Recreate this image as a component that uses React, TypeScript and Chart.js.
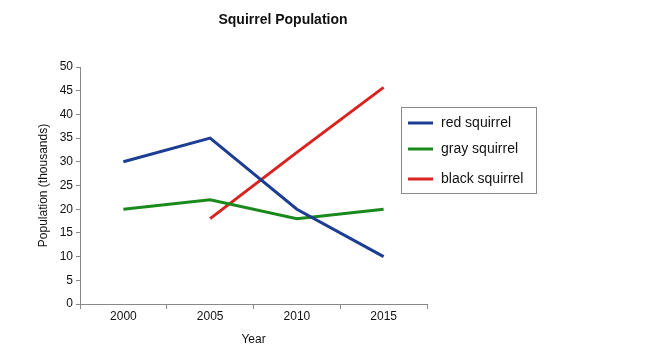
import React, { useEffect, useRef } from "react";
import { Chart, registerables } from "chart.js";

Chart.register(...registerables);

const years = ["2000", "2005", "2010", "2015"];
const redSquirrel = [30, 35, 20, 10];
const graySquirrel = [20, 22, 18, 20];
const blackSquirrel = [null, 18, 32, 45.7];
const seriesNames = ["red squirrel", "gray squirrel", "black squirrel"];
const seriesColors = ["#1b3d93", "#1a8a1c", "#d9231f"];
const chartTitle = "Squirrel Population";
const yTitle = "Population (thousands)";
const xTitle = "Year";

const FONT = "'Liberation Sans', Arial, sans-serif";

const overlayPlugin = {
  id: "overlay",
  afterDraw(chart: any) {
    const ctx = chart.ctx;
    ctx.save();
    // title
    ctx.fillStyle = "#111";
    ctx.font = `bold 14px ${FONT}`;
    ctx.textAlign = "center";
    ctx.textBaseline = "middle";
    ctx.fillText(chartTitle, 283, 20);
    // legend box
    ctx.strokeStyle = "#8a8a8a";
    ctx.lineWidth = 1;
    ctx.strokeRect(401.5, 107.5, 135, 86);
    const rows = [123, 149, 179];
    chart.data.datasets.forEach((ds: any, i: number) => {
      ctx.strokeStyle = ds.borderColor;
      ctx.lineWidth = 3;
      ctx.beginPath();
      ctx.moveTo(408, rows[i]);
      ctx.lineTo(433, rows[i]);
      ctx.stroke();
      ctx.fillStyle = "#111";
      ctx.font = `14px ${FONT}`;
      ctx.textAlign = "left";
      ctx.textBaseline = "middle";
      ctx.fillText(ds.label, 441, rows[i]);
    });
    ctx.restore();
  },
};

export default function App() {
  const ref = useRef<HTMLCanvasElement>(null);
  useEffect(() => {
    const data = [redSquirrel, graySquirrel, blackSquirrel];
    const chart = new Chart(ref.current!, {
      type: "line",
      data: {
        labels: years,
        datasets: data.map((d, i) => ({
          label: seriesNames[i],
          data: d as any,
          borderColor: seriesColors[i],
          backgroundColor: seriesColors[i],
          borderWidth: 3,
          pointRadius: 0,
          tension: 0,
          fill: false,
        })),
      },
      options: {
        animation: false,
        responsive: false,
        maintainAspectRatio: false,
        layout: { padding: { top: 67, right: 219, left: 0, bottom: 0 } },
        plugins: {
          legend: { display: false },
          title: { display: false },
          tooltip: { enabled: false },
        },
        scales: {
          x: {
            type: "category",
            offset: true,
            grid: {
              offset: true,
              drawOnChartArea: false,
              drawTicks: true,
              tickLength: 5,
              color: "#888",
            },
            border: { color: "#888", width: 1 },
            ticks: { color: "#111", font: { family: FONT, size: 12 }, padding: 0, maxRotation: 0 },
            title: {
              display: true,
              text: xTitle,
              color: "#111",
              font: { family: FONT, size: 12 },
              padding: { top: 0, bottom: 16 },
            },
            afterFit: (s: any) => {
              s.height = 59;
            },
          },
          y: {
            min: 0,
            max: 50,
            ticks: { stepSize: 5, color: "#111", font: { family: FONT, size: 12 }, padding: 3 },
            grid: { drawOnChartArea: false, drawTicks: true, tickLength: 4, color: "#888" },
            border: { color: "#888", width: 1 },
            title: {
              display: true,
              text: yTitle,
              color: "#111",
              font: { family: FONT, size: 12 },
              padding: { top: 36, bottom: 0 },
            },
            afterFit: (s: any) => {
              s.width = 80;
            },
          },
        },
      },
      plugins: [overlayPlugin],
    });
    return () => chart.destroy();
  }, []);
  return (
    <div style={{ position: "fixed", left: 0, top: 0, width: 646, height: 363, background: "#fff" }}>
      <canvas ref={ref} width={646} height={363} style={{ width: 646, height: 363 }} />
    </div>
  );
}
